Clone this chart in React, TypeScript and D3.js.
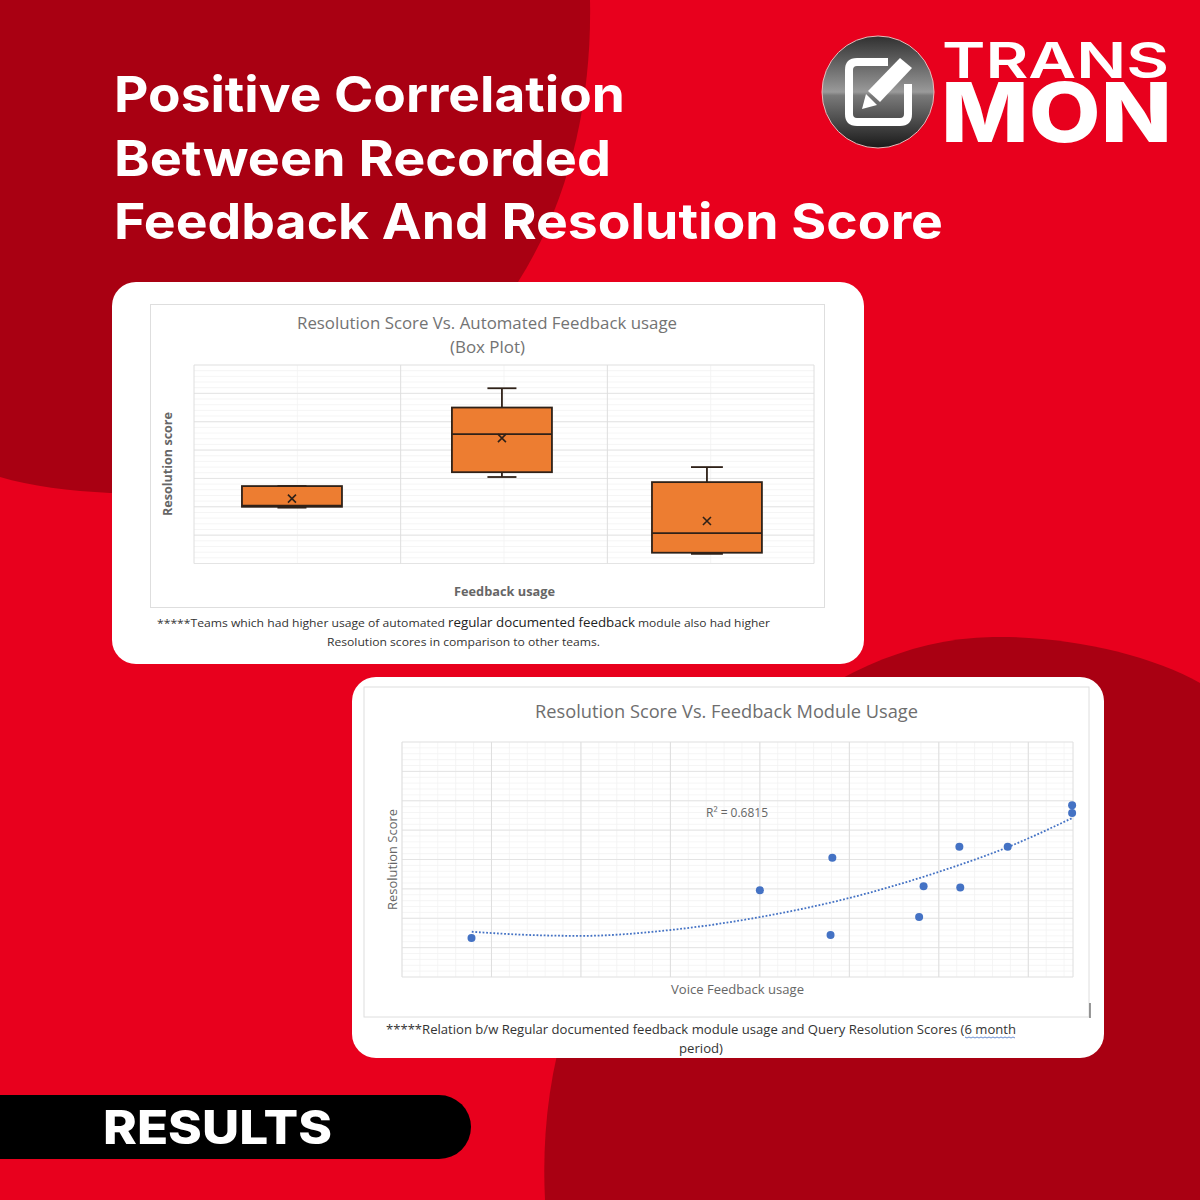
import React from "react";
import * as d3 from "d3";

const headingLines = ["Positive Correlation", "Between Recorded", "Feedback And Resolution Score"];
const boxCentres = [0.474, 1.49, 2.482];
const boxLow = [1.97, 3.05, 0.34];
const boxQ1 = [2.0, 3.22, 0.38];
const boxMedian = [2.04, 4.56, 1.07];
const boxQ3 = [2.73, 5.5, 2.87];
const boxHigh = [2.73, 6.18, 3.4];
const boxMean = [2.29, 4.42, 1.5];
const boxWidths = [0.484, 0.484, 0.532];
const scatterX = [0.777, 4.0, 4.81, 4.79, 5.78, 5.83, 6.23, 6.24, 6.77, 7.49, 7.49];
const scatterY = [1.33, 2.95, 4.06, 1.43, 2.04, 3.09, 4.43, 3.05, 4.43, 5.85, 5.58];
const trendX = [0.78, 1.43, 2, 3, 4, 5, 6, 6.77, 7.49];
const trendY = [1.54, 1.43, 1.4, 1.6, 2.04, 2.69, 3.58, 4.42, 5.41];

const RED = "#e8001d";
const DARK = "#a90012";
const FONT = "'Open Sans', 'Noto Sans', sans-serif";

const bx = d3.scaleLinear().domain([0, 3]).range([194, 814]);
const by = d3.scaleLinear().domain([0, 7]).range([563.5, 365]);
const sx = d3.scaleLinear().domain([0, 7.5]).range([402, 1073]);
const sy = d3.scaleLinear().domain([0, 8]).range([977, 742]);

function Fit(props: any) {
  const { w, children, ...rest } = props;
  return (
    <text textLength={w} lengthAdjust="spacingAndGlyphs" fontFamily={FONT} {...rest}>
      {children}
    </text>
  );
}

function Grid({ x, y, xMajor, xMinor, yMajor, yMinor }: any) {
  const [x0, x1] = x.range();
  const [y0, y1] = y.range();
  return (
    <g>
      {yMinor.map((v: number) => <line key={"ym" + v} x1={x0} x2={x1} y1={y(v)} y2={y(v)} stroke="#f2f2f2" strokeWidth={0.8} />)}
      {xMinor.map((v: number) => <line key={"xm" + v} x1={x(v)} x2={x(v)} y1={y0} y2={y1} stroke="#f2f2f2" strokeWidth={0.8} />)}
      {yMajor.map((v: number) => <line key={"yM" + v} x1={x0} x2={x1} y1={y(v)} y2={y(v)} stroke="#e4e4e4" strokeWidth={1} />)}
      {xMajor.map((v: number) => <line key={"xM" + v} x1={x(v)} x2={x(v)} y1={y0} y2={y1} stroke="#dedede" strokeWidth={1} />)}
    </g>
  );
}

function Logo() {
  return (
    <g>
      <defs>
        <linearGradient id="ballTop" x1="0" y1="0" x2="0" y2="1">
          <stop offset="0" stopColor="#303030" />
          <stop offset="0.5" stopColor="#9a9a9a" />
          <stop offset="0.53" stopColor="#7a7a7a" />
          <stop offset="1" stopColor="#1a1a1a" />
        </linearGradient>
      </defs>
      <circle cx={878} cy={92} r={56} fill="url(#ballTop)" stroke="#e9b9b9" strokeWidth={1} />
      <path d="M888,62 H857 Q849,62 849,70 V114 Q849,122 857,122 H900 Q908,122 908,114 V84" fill="none" stroke="#fff" strokeWidth={8} />
      <path d="M900,58 L912,68 L880,102 L868,91 Z" fill="#fff" />
      <path d="M866,94 L877,105 L862,109 Z" fill="#fff" />
      <text x={942} y={78} textLength={227} lengthAdjust="spacingAndGlyphs" fontFamily="Inter, sans-serif" fontWeight={600} fontSize={49} fill="#fff">TRANS</text>
      <text x={941} y={142} textLength={231} lengthAdjust="spacingAndGlyphs" fontFamily="Inter, sans-serif" fontWeight={800} fontSize={82} fill="#fff">MON</text>
    </g>
  );
}

function BoxChart() {
  const yMinor = d3.range(0, 7.01, 0.2);
  return (
    <g>
      <rect x={150.5} y={304.5} width={674} height={303} fill="#fff" stroke="#dedede" />
      <Fit x={297} y={329} w={380} fontSize={17} fill="#737373">Resolution Score Vs. Automated Feedback usage</Fit>
      <Fit x={450} y={353} w={75} fontSize={17} fill="#737373">(Box Plot)</Fit>
      <Grid x={bx} y={by} xMajor={[0, 1, 2, 3]} xMinor={[0.5, 1.5, 2.5]} yMajor={d3.range(0, 8)} yMinor={yMinor} />
      {boxCentres.map((c, i) => {
        const left = bx(c - boxWidths[i] / 2);
        const right = bx(c + boxWidths[i] / 2);
        const mid = bx(c);
        const cap = (right - left) * 0.145;
        const mx = by(boxMean[i]);
        return (
          <g key={i} stroke="#2f2118" strokeWidth={1.8} fill="none">
            <line x1={mid} x2={mid} y1={by(boxHigh[i])} y2={by(boxQ3[i])} />
            <line x1={mid} x2={mid} y1={by(boxQ1[i])} y2={by(boxLow[i])} />
            <line x1={mid - cap} x2={mid + cap} y1={by(boxHigh[i])} y2={by(boxHigh[i])} />
            <line x1={mid - cap} x2={mid + cap} y1={by(boxLow[i])} y2={by(boxLow[i])} />
            <rect x={left} y={by(boxQ3[i])} width={right - left} height={by(boxQ1[i]) - by(boxQ3[i])} fill="#ed7d31" />
            <line x1={left} x2={right} y1={by(boxMedian[i])} y2={by(boxMedian[i])} />
            <path d={`M${mid - 4},${mx - 4}L${mid + 4},${mx + 4}M${mid - 4},${mx + 4}L${mid + 4},${mx - 4}`} strokeWidth={1.6} />
          </g>
        );
      })}
      <Fit transform="translate(172,516) rotate(-90)" x={0} y={0} w={104} fontSize={12.5} fontWeight={700} fill="#666">Resolution score</Fit>
      <Fit x={454} y={596} w={101} fontSize={12.5} fontWeight={700} fill="#666">Feedback usage</Fit>
      <Fit x={157} y={627} w={288} fontSize={11.5} fill="#333">*****Teams which had higher usage of automated</Fit>
      <Fit x={448} y={627} w={187} fontSize={13} fill="#222">regular documented feedback</Fit>
      <Fit x={638} y={627} w={132} fontSize={11.5} fill="#333">module also had higher</Fit>
      <Fit x={327} y={646} w={273} fontSize={11.5} fill="#333">Resolution scores in comparison to other teams.</Fit>
    </g>
  );
}

function ScatterChart() {
  const trend = d3.line<number>().x((v) => sx(v)).y((_, i) => sy(trendY[i])).curve(d3.curveMonotoneX);
  return (
    <g>
      <rect x={364} y={687} width={725} height={330} fill="#fff" stroke="#dedede" />
      <line x1={1090} x2={1090} y1={1003} y2={1018} stroke="#555" strokeWidth={1.2} />
      <Fit x={535} y={718} w={383} fontSize={18.5} fill="#6e6e6e">Resolution Score Vs. Feedback Module Usage</Fit>
      <Grid x={sx} y={sy} xMajor={d3.range(0, 8).concat([7.5])} xMinor={d3.range(0, 7.51, 0.2)} yMajor={d3.range(0, 9)} yMinor={d3.range(0, 8.01, 0.2)} />
      <path d={trend(trendX) ?? ""} fill="none" stroke="#4472c4" strokeWidth={1.8} strokeDasharray="1.8 1.8" />
      {scatterX.map((v, i) => <circle key={i} cx={sx(v)} cy={sy(scatterY[i])} r={4} fill="#4472c4" />)}
      <Fit x={706} y={817} w={62} fontSize={12} fill="#666">R² = 0.6815</Fit>
      <Fit transform="translate(397,910) rotate(-90)" x={0} y={0} w={101} fontSize={12.5} fill="#666">Resolution Score</Fit>
      <Fit x={671} y={994} w={133} fontSize={12.5} fill="#666">Voice Feedback usage</Fit>
      <Fit x={386} y={1034} w={630} fontSize={12.5} fill="#333">*****Relation b/w Regular documented feedback module usage and Query Resolution Scores (6 month</Fit>
      <Fit x={679} y={1053} w={44} fontSize={12.5} fill="#333">period)</Fit>
      <path d={d3.range(965, 1016, 2).map((px, i) => `${i ? "L" : "M"}${px},${1037 + (i % 2)}`).join("")} fill="none" stroke="#4472c4" strokeWidth={0.8} />
    </g>
  );
}

export default function App() {
  const widths = [511, 497, 829];
  return (
    <svg width={1200} height={1200} viewBox="0 0 1200 1200" style={{ position: "absolute", left: 0, top: 0 }}>
      <rect width={1200} height={1200} fill={RED} />
      <path d="M0,0 L590,0 C592,100 570,200 518,282 C440,400 230,497 110,493 C70,491 30,486 0,477 Z" fill={DARK} />
      <path d="M545,1200 C540,1100 560,1000 620,900 C690,790 820,640 993,637 C1070,636 1150,655 1200,683 V1200 Z" fill={DARK} />
      {headingLines.map((t, i) => (
        <text key={t} x={114} y={112 + i * 63.5} textLength={widths[i]} lengthAdjust="spacingAndGlyphs" fontFamily="Inter, sans-serif" fontWeight={700} fontSize={50} fill="#fff">{t}</text>
      ))}
      <Logo />
      <rect x={112} y={282} width={752} height={382} rx={24} fill="#fff" />
      <rect x={352} y={677} width={752} height={381} rx={24} fill="#fff" />
      <BoxChart />
      <ScatterChart />
      <path d="M0,1095 H439 A32,32 0 0 1 439,1159 H0 Z" fill="#000" />
      <text x={103} y={1144} textLength={229} lengthAdjust="spacingAndGlyphs" fontFamily="Inter, sans-serif" fontWeight={800} fontSize={46} fill="#fff">RESULTS</text>
    </svg>
  );
}
